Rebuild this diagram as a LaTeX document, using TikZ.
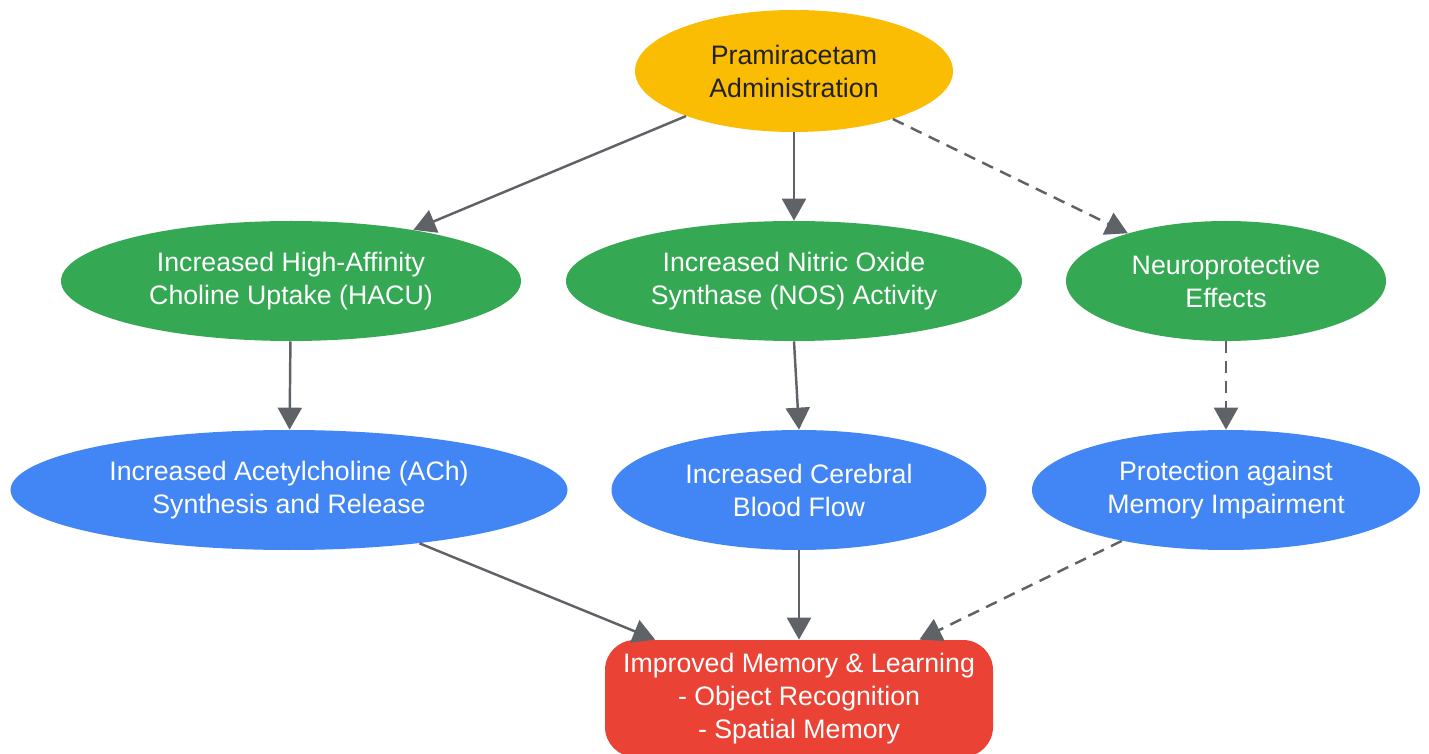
\documentclass[tikz,border=0pt]{standalone}
\usepackage{fontspec}
\setmainfont{Liberation Sans}
\usetikzlibrary{shapes.geometric, arrows.meta}

\tikzstyle{bubble} = [ellipse, inner sep=0pt, text centered, align=center, minimum height=2.4cm, text=white, font=\fontsize{15.2}{18.8}\selectfont]
\tikzstyle{outcome} = [rectangle, rounded corners=0.6cm, inner sep=0pt, align=center, text=white, font=\fontsize{15.2}{18.8}\selectfont]
\tikzstyle{arrow} = [draw, line width=1.4pt, color=gray1, -{Triangle[length=0.44cm, width=0.48cm]}]
\tikzstyle{maybe} = [dash pattern=on 6.8pt off 4.5pt]
\definecolor{yellow1}{HTML}{FBBC04}
\definecolor{green1}{HTML}{34A853}
\definecolor{blue1}{HTML}{4285F4}
\definecolor{red1}{HTML}{EA4335}
\definecolor{gray1}{HTML}{5F6368}
\definecolor{ink1}{HTML}{202124}

\begin{document}
\begin{tikzpicture}
	\useasboundingbox (0,0) rectangle (28.58,-15.08);

	\node [bubble, fill=yellow1, text=ink1, minimum width=6.36cm, minimum height=2.44cm] (pramiracetam) at (15.88,-1.42) {Pramiracetam\\Administration};

	% Mechanisms
	\node [bubble, fill=green1, minimum width=9.2cm] (hacu) at (5.82,-5.62) {Increased High-Affinity\\Choline Uptake (HACU)};
	\node [bubble, fill=green1, minimum width=9.12cm] (nos) at (15.88,-5.62) {Increased Nitric Oxide\\Synthase (NOS) Activity};
	\node [bubble, fill=green1, minimum width=6.4cm] (neuro) at (24.52,-5.62) {Neuroprotective\\Effects};

	% Effects
	\node [bubble, fill=blue1, minimum width=11.14cm] (ach) at (5.78,-9.8) {Increased Acetylcholine (ACh)\\Synthesis and Release};
	\node [bubble, fill=blue1, minimum width=7.5cm] (bloodflow) at (15.98,-9.8) {Increased Cerebral\\Blood Flow};
	\node [bubble, fill=blue1, minimum width=7.76cm] (protection) at (24.52,-9.8) {Protection against\\Memory Impairment};

	\node [outcome, fill=red1, minimum width=7.76cm, minimum height=2.34cm] (memory) at (15.98,-13.97) {Improved Memory \& Learning\\- Object Recognition\\- Spatial Memory};

	\draw [arrow] (pramiracetam) to (hacu);
	\draw [arrow] (pramiracetam) to (nos);
	\draw [arrow, maybe] (pramiracetam) to (neuro);

	\draw [arrow] (hacu) to (ach);
	\draw [arrow] (nos.south) to (bloodflow.north);
	\draw [arrow, maybe] (neuro) to (protection);

	\draw [arrow] (ach) to (memory);
	\draw [arrow] (bloodflow) to (memory);
	\draw [arrow, maybe] (protection) to (memory);
\end{tikzpicture}
\end{document}
